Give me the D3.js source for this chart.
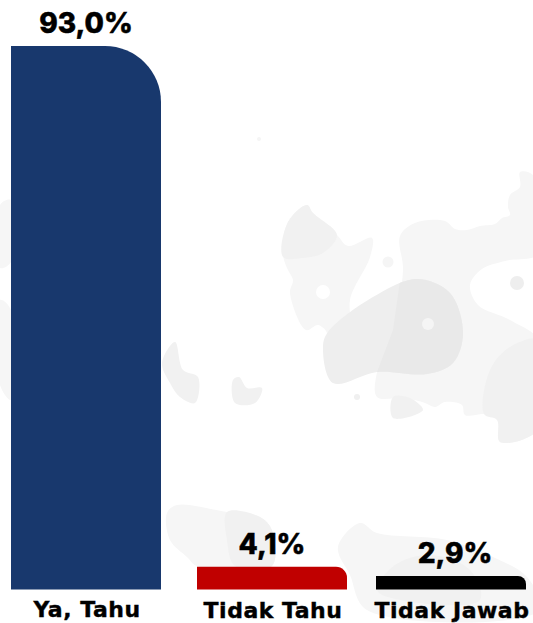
<!DOCTYPE html>
<html>
<head>
<meta charset="utf-8">
<title>Ya, Tahu</title>
<script src="https://cdn.jsdelivr.net/npm/d3@7"></script>
<style>
    html, body { margin: 0; padding: 0; background: #fff; }
    svg { display: block; }
    text { fill: #000; stroke: #000; text-anchor: middle; }
    .value { font-family: Inter, "Open Sans", sans-serif; font-size: 28px; font-weight: 800; stroke-width: 0.5px; }
    .cat { font-family: "DejaVu Sans", Inter, sans-serif; font-size: 22px; font-weight: 700; stroke-width: 0.4px; letter-spacing: 0.5px; }
</style>
</head>
<body>
<svg id="chart" width="533" height="623"></svg>
<script>
// --- Data ---
const categories = ["Ya, Tahu", "Tidak Tahu", "Tidak Jawab"];
const values = [93.0, 4.1, 2.9];
const valueLabels = ["93,0%", "4,1%", "2,9%"];
const barColors = ["#18386d", "#c00000", "#000000"];

// --- Faint map behind the bars (decoration only) ---
const mapLight = [
    [[400,236],[415,223],[445,221],[455,229],[467,230],[480,226],[495,224],[502,218],[510,215],[508,207],[510,195],[520,187],[520,172],[533,175],[540,253],[505,261],[482,269],[470,285],[478,305],[510,320],[540,342],[540,428],[500,442],[498,420],[488,414],[465,415],[462,405],[445,402],[435,407],[425,403],[405,398],[377,397],[377,372],[393,330],[403,270]],
    [[283,255],[288,222],[307,205],[313,213],[337,235],[348,246],[372,238],[370,257],[350,300],[353,330],[357,350],[347,364],[333,383],[323,347],[327,333],[318,325],[306,330],[290,293],[293,280],[288,270]],
    [[167,513],[177,505],[227,512],[260,517],[270,527],[272,566],[197,566],[187,557],[170,540]],
    [[338,547],[360,523],[377,533],[447,540],[493,557],[527,577],[540,610],[367,610],[350,575]],
    [[0,205],[11,200],[11,262],[0,268]],
    [[0,300],[11,310],[11,400],[0,385]]
];
const mapMid = [
    [[283,257],[288,222],[307,205],[313,213],[337,235],[323,253],[303,258]],
    [[162,363],[175,342],[183,370],[198,377],[195,403],[180,397],[170,383]],
    [[233,380],[239,377],[247,388],[262,388],[255,403],[235,403]],
    [[393,397],[410,398],[423,410],[393,418]],
    [[484,414],[490,370],[510,347],[540,340],[540,428],[500,442],[497,420]],
    [[227,512],[260,517],[272,530],[272,566],[235,566],[227,540]],
    [[377,590],[395,565],[430,555],[470,570],[480,600],[400,600]]
];
const mapBlob = [[328,332],[373,297],[417,279],[450,293],[463,333],[453,363],[427,374],[377,372],[333,383],[323,347]];
const mapBlobClip = [[403,260],[533,260],[533,400],[377,400],[377,372],[393,330]];
const mapDots = [[323,292,7,"#ffffff"],[388,262,5.5,"#f5f5f5"],[428,324,6,"#f5f5f5"],[517,283,7,"#eeeeee"],[357,397,3,"#f0f0f0"],[259,139,2,"#f5f5f5"]];

const svg = d3.select("#chart");

// --- Map ---
const blob = d3.line().curve(d3.curveCatmullRomClosed.alpha(0.5));
const drawBlobs = (shapes, fill) => svg.append("g").selectAll("path").data(shapes).enter()
    .append("path").attr("d", blob).attr("fill", fill);
drawBlobs(mapLight, "#f6f6f6");
drawBlobs(mapMid, "#f1f1f1");
svg.append("clipPath").attr("id", "blob-right").append("path").attr("d", d3.line()(mapBlobClip) + "Z");
svg.append("path").attr("d", blob(mapBlob)).attr("fill", "#eeeeee");
svg.append("path").attr("d", blob(mapBlob)).attr("fill", "#e9e9e9").attr("clip-path", "url(#blob-right)");
svg.append("g").selectAll("circle").data(mapDots).enter().append("circle")
    .attr("cx", d => d[0]).attr("cy", d => d[1]).attr("r", d => d[2]).attr("fill", d => d[3]);

// --- Scales ---
// the short bars in the source are a little shorter than strict proportion, hence the extra knots
const y = d3.scaleLinear().domain([0, 2.9, 4.1, 93]).range([589.5, 576, 566.7, 46]);
const x = d3.scaleOrdinal().domain(categories).range([11, 197, 376]);
const barWidth = 150;
const radius = d3.scaleLinear().domain([2.9, 4.1, 93]).range([8, 11, 56]);

// bar with only the top right corner rounded
const barPath = (d, i) => {
    const x0 = x(categories[i]), x1 = x0 + barWidth, top = y(d), r = radius(d);
    const p = d3.path();
    p.moveTo(x0, y(0));
    p.lineTo(x0, top);
    p.lineTo(x1 - r, top);
    p.arcTo(x1, top, x1, top + r, r);
    p.lineTo(x1, y(0));
    p.closePath();
    return p.toString();
};

svg.append("g").selectAll("path").data(values).enter().append("path")
    .attr("d", barPath)
    .attr("fill", (d, i) => barColors[i]);

// --- Labels ---
const valueNudge = [0, 0, 4];
svg.append("g").selectAll("text").data(values).enter().append("text")
    .attr("class", "value")
    .attr("x", (d, i) => x(categories[i]) + barWidth / 2 + valueNudge[i])
    .attr("y", d => y(d) - 13)
    .text((d, i) => valueLabels[i]);

// the J of DejaVu hangs below the baseline, so the last label sits a bit higher than in the source
const catBaselines = [617, 618, 617.5];
svg.append("g").selectAll("text").data(categories).enter().append("text")
    .attr("class", "cat")
    .attr("x", d => x(d) + barWidth / 2 + 1)
    .attr("y", (d, i) => catBaselines[i])
    .text(d => d);
</script>
</body>
</html>
